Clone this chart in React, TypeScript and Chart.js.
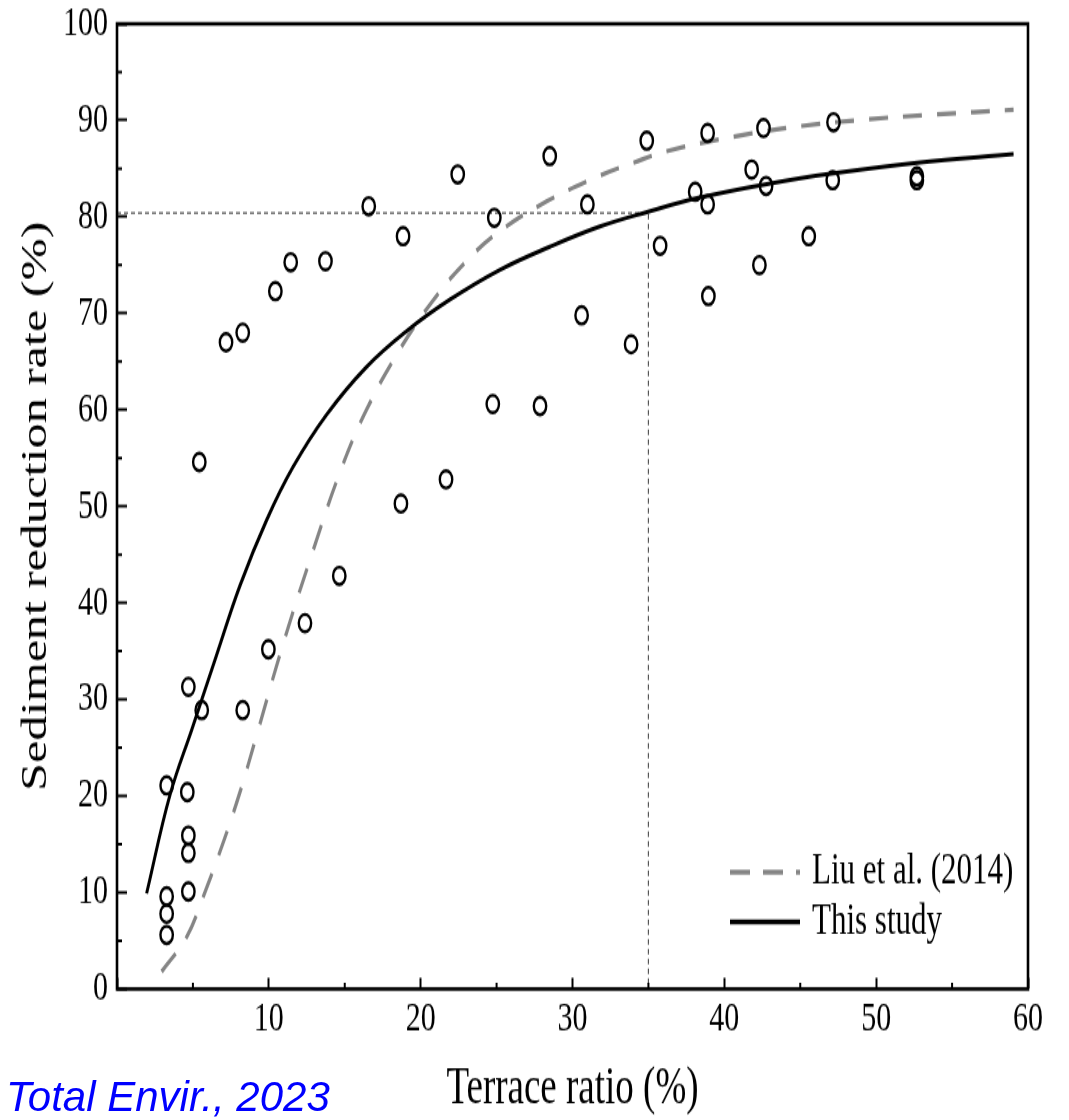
import React, { useEffect, useRef } from 'react';
import { Chart, registerables } from 'chart.js';

Chart.register(...registerables);

// Observed data (terrace ratio %, sediment reduction rate %)
const obsX = [
  5.42, 7.18, 8.28, 10.43, 11.44, 13.73, 16.58, 18.84, 22.44, 28.5,
  24.85, 30.98, 30.6, 24.75, 27.86, 18.7, 21.67, 14.64, 12.38, 9.97,
  34.89, 38.9, 42.58, 47.19, 41.8, 38.08, 38.9, 42.75, 47.14, 52.68,
  52.68, 35.77, 45.56, 42.31, 38.95, 33.86,
  5.58, 8.28, 3.27, 4.63, 4.7, 4.7, 4.7, 3.27, 3.27, 3.27, 4.7,
];
const obsY = [
  54.6, 67.0, 68.0, 72.3, 75.3, 75.4, 81.1, 78.0, 84.4, 86.3,
  79.9, 81.3, 69.8, 60.6, 60.4, 50.3, 52.8, 42.8, 37.9, 35.2,
  87.9, 88.7, 89.2, 89.8, 84.9, 82.6, 81.3, 83.2, 83.8, 84.2,
  83.8, 77.0, 78.0, 75.0, 71.8, 66.8,
  28.9, 28.9, 21.1, 20.4, 15.9, 14.1, 10.1, 9.6, 7.8, 5.6, 31.3,
];

// "This study" fitted curve
const studyX = [1.95, 3.49, 4.95, 6.56, 8.1, 9.86, 11.6, 13.8, 16.4, 19.1, 21.9, 25.2, 28.5, 31.8, 34.9, 38.4, 42.8, 47.2, 52.7, 59.05];
const studyY = [9.9, 20.1, 27.0, 34.6, 41.8, 48.6, 54.1, 59.5, 64.4, 68.2, 71.4, 74.5, 76.9, 79.0, 80.5, 82.0, 83.4, 84.5, 85.6, 86.5];

// "Liu et al. (2014)" curve
const liuX = [2.94, 4.59, 5.69, 7.0, 8.1, 9.2, 10.95, 12.93, 14.7, 16.4, 18.6, 20.8, 23.0, 25.2, 28.3, 31.7, 34.0, 36.2, 40.6, 45.0, 49.4, 53.8, 59.05];
const liuY = [1.8, 5.4, 9.6, 15.2, 20.4, 26.3, 35.8, 45.5, 53.6, 59.9, 66.2, 71.3, 75.4, 78.5, 81.6, 84.2, 85.6, 86.8, 88.3, 89.4, 90.1, 90.6, 91.1];

// Reference guide (terrace ratio 35% -> 80.4%)
const guideX = [0, 35, 35];
const guideY = [80.4, 80.4, 0];

const minorTicksX = [5, 15, 25, 35, 45, 55];
const minorTicksY = [5, 15, 25, 35, 45, 55, 65, 75, 85, 95];
const legendLabels = ['Liu et al. (2014)', 'This study'];

const xTitle = 'Terrace ratio (%)';
const yTitle = 'Sediment reduction rate (%)';
const sourceNote = 'Total Envir., 2023';

const SERIF = '"Liberation Serif", "Times New Roman", serif';
const STRETCH = 1.4;
const W = 1069;
const H = 800;

const zip = (xs: number[], ys: number[]) => xs.map((x, i) => ({ x, y: ys[i] }));

const decorPlugin = {
  id: 'decor',
  afterDatasetsDraw(chart: any) {
    const { ctx, chartArea: a, scales } = chart;
    const xs = scales.x;
    const ys = scales.y;
    ctx.save();
    ctx.strokeStyle = '#000';
    ctx.lineWidth = 2.6;
    ctx.setLineDash([]);
    ctx.strokeRect(a.left, a.top, a.right - a.left, a.bottom - a.top);
    ctx.lineWidth = 2;
    ctx.beginPath();
    minorTicksX.forEach((v) => {
      const p = xs.getPixelForValue(v);
      ctx.moveTo(p, a.bottom);
      ctx.lineTo(p, a.bottom - 4.5);
    });
    minorTicksY.forEach((v) => {
      const p = ys.getPixelForValue(v);
      ctx.moveTo(a.left, p);
      ctx.lineTo(a.left + 5, p);
    });
    ctx.stroke();

    // legend
    const lx = a.right - 298;
    const rows = [a.bottom - 83.5, a.bottom - 47.8];
    ctx.lineWidth = 3.5;
    ctx.strokeStyle = '#858585';
    ctx.setLineDash([20, 13]);
    ctx.beginPath();
    ctx.moveTo(lx, rows[0]);
    ctx.lineTo(lx + 70, rows[0]);
    ctx.stroke();
    ctx.setLineDash([]);
    ctx.strokeStyle = '#000';
    ctx.beginPath();
    ctx.moveTo(lx, rows[1]);
    ctx.lineTo(lx + 70, rows[1]);
    ctx.stroke();
    ctx.fillStyle = '#000';
    ctx.font = `31px ${SERIF}`;
    ctx.textBaseline = 'middle';
    ctx.textAlign = 'left';
    ctx.fillText(legendLabels[0], lx + 82, rows[0]);
    ctx.fillText(legendLabels[1], lx + 82, rows[1]);
    ctx.restore();
  },
};

export default function App() {
  const canvasRef = useRef<HTMLCanvasElement | null>(null);

  useEffect(() => {
    const canvas = canvasRef.current;
    if (!canvas) return;
    const chart = new Chart(canvas, {
      type: 'scatter',
      data: {
        datasets: [
          {
            label: 'Observed',
            data: zip(obsX, obsY),
            pointStyle: 'circle',
            pointRadius: 6.2,
            borderWidth: 2.4,
            borderColor: '#000',
            backgroundColor: 'rgba(0,0,0,0)',
            showLine: false,
          },
          {
            label: legendLabels[1],
            data: zip(studyX, studyY),
            showLine: true,
            borderColor: '#000',
            borderWidth: 3,
            pointRadius: 0,
            tension: 0.4,
            fill: false,
          },
          {
            label: legendLabels[0],
            data: zip(liuX, liuY),
            showLine: true,
            borderColor: '#858585',
            borderWidth: 3.2,
            borderDash: [19, 15],
            pointRadius: 0,
            tension: 0.4,
            fill: false,
          },
          {
            label: 'guide',
            data: zip(guideX, guideY),
            showLine: true,
            borderColor: '#555',
            borderWidth: 1.2,
            borderDash: [4, 3],
            pointRadius: 0,
            tension: 0,
            fill: false,
          },
        ],
      },
      options: {
        responsive: false,
        animation: false,
        events: [],
        devicePixelRatio: 1,
        layout: { padding: { top: 17, right: 41, bottom: 0, left: 0 } },
        plugins: {
          legend: { display: false },
          tooltip: { enabled: false },
        },
        scales: {
          x: {
            type: 'linear',
            min: 0,
            max: 60,
            grid: {
              drawOnChartArea: false,
              drawTicks: true,
              tickLength: -8,
              tickWidth: 2,
              tickColor: '#000',
            },
            border: { display: false },
            ticks: {
              stepSize: 10,
              padding: 12,
              color: '#000',
              font: { family: SERIF, size: 30 },
              maxRotation: 0,
              callback: (v: any) => (v === 0 ? '' : String(v)),
            },
            title: {
              display: true,
              text: xTitle,
              color: '#000',
              font: { family: SERIF, size: 37 },
              padding: { top: 0, bottom: 0 },
            },
            afterFit: (s: any) => {
              s.height = H - 706.4;
              s.paddingLeft = 0;
              s.paddingRight = 0;
            },
          },
          y: {
            type: 'linear',
            min: 0,
            max: 100,
            grid: {
              drawOnChartArea: false,
              drawTicks: true,
              tickLength: -10,
              tickWidth: 2,
              tickColor: '#000',
            },
            border: { display: false },
            ticks: {
              stepSize: 10,
              padding: 19,
              color: '#000',
              font: { family: SERIF, size: 30 },
            },
            title: {
              display: true,
              text: yTitle,
              color: '#000',
              font: { family: SERIF, size: 36 },
              padding: { top: 15, bottom: 0 },
            },
            afterFit: (s: any) => {
              s.width = 117;
              s.paddingTop = 0;
              s.paddingBottom = 0;
            },
          },
        },
      },
      plugins: [decorPlugin],
    } as any);
    return () => chart.destroy();
  }, []);

  return (
    <div
      style={{
        position: 'absolute',
        left: 0,
        top: 0,
        width: W,
        height: 1120,
        overflow: 'hidden',
        background: '#fff',
      }}
    >
      <div
        style={{
          position: 'absolute',
          left: 0,
          top: 0,
          width: W,
          height: H,
          transform: `scaleY(${STRETCH})`,
          transformOrigin: '0 0',
        }}
      >
        <canvas ref={canvasRef} width={W} height={H} style={{ display: 'block' }} />
      </div>
      <div
        style={{
          position: 'absolute',
          left: 6,
          top: 1076,
          font: 'italic 42px "Liberation Sans", Arial, sans-serif',
          lineHeight: '42px',
          color: '#0000ff',
          whiteSpace: 'nowrap',
        }}
      >
        {sourceNote}
      </div>
    </div>
  );
}
